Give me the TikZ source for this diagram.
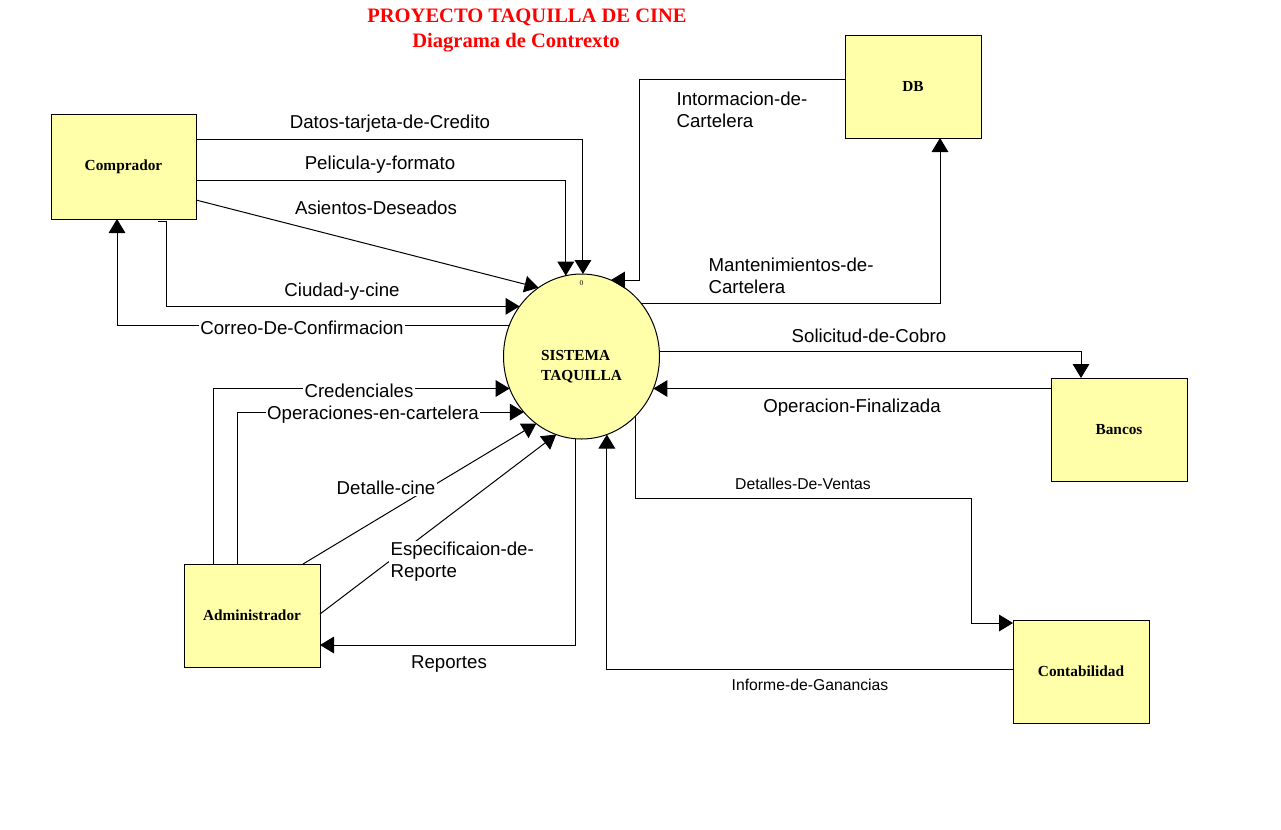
\documentclass[tikz,border=0pt]{standalone}
\usepackage{fontspec}
\setmainfont{Liberation Serif}
\newfontfamily\arialf{Liberation Sans}
\usetikzlibrary{arrows.meta,shapes.geometric}
\definecolor{boxyellow}{RGB}{255,255,170}
\begin{document}
\begin{tikzpicture}[x=0.75pt,y=-0.75pt,
  ent/.style={draw, line width=0.75pt, fill=boxyellow, minimum width=102pt, minimum height=77.25pt, inner sep=0pt, outer sep=0pt, font=\fontsize{11.5}{13}\selectfont\bfseries},
  flow/.style={line width=0.75pt, -{Triangle[length=10.5pt,width=12.5pt]}},
  lbl/.style={font=\arialf\fontsize{14}{16.5}\selectfont, inner sep=1pt},
  slbl/.style={font=\arialf\fontsize{11.8}{13}\selectfont, inner sep=1pt},
  ttl/.style={font=\fontsize{15.4}{18}\selectfont\bfseries, text=red, inner sep=0pt}]
\useasboundingbox (0,0) rectangle (1281,829);

% title
\node[ttl] (title) at (527,17) {PROYECTO TAQUILLA DE CINE};
\node[ttl] (subtitle) at (516,43) {Diagrama de Contrexto};

% entities
\node[ent, minimum width=108.75pt, minimum height=78.75pt] (comp) at (123.5,166.5) {Comprador};
\node[ent] (db) at (913,86.5) {DB};
\node[ent] (bancos) at (1119,429.5) {Bancos};
\node[ent] (admin) at (252,615.5) {Administrador};
\node[ent] (conta) at (1081,671.5) {Contabilidad};

% process
\node[draw, ellipse, line width=0.75pt, fill=boxyellow, minimum width=117pt, minimum height=123.75pt, inner sep=0pt, outer sep=0pt,
  label={[font=\fontsize{11.5}{15}\selectfont\bfseries, align=left, yshift=-7.5pt]center:SISTEMA\\TAQUILLA},
  label={[font=\fontsize{5.5}{6}\selectfont, inner sep=0pt, yshift=55pt]center:0}] (sys) at (581.5,356.5) {};

% connectors
\draw[flow] (comp.east |- 0,139) -| (sys.89);
\draw[flow] (comp.east |- 0,180) -| (sys.101.6);
\draw[flow] (comp.east |- 0,200) -- (sys.122.6);
\draw[flow] ([yshift=-1.5pt]comp.south -| 158,0) -- ++(8,0) |- (sys.141.6);
\draw[flow] (sys.157.9) -| (comp.south -| 117,0);
\draw[flow] (db.west |- 0,79) -| (sys.69.1 -| 639,0) -- (sys.69.1);
\draw[flow] (sys.42.9) -| (db.south -| 940,0);
\draw[flow] (sys.4) -| (bancos.north -| 1081,0);
\draw[flow] (bancos.west |- sys.336.4) -- (sys.336.4);
\draw[flow] (admin.north -| 213,0) |- (sys.204.4);
\draw[flow] (admin.north -| 237,0) |- (sys.224.8);
\draw[flow] (admin.north -| 303,0) -- (sys.236);
\draw[flow] (admin.east |- 0,614) -- (sys.252.9);
\draw[flow] (sys.266.9) |- (admin.east |- 0,645);
\draw[flow] (sys.312.7) |- (971,498) |- (conta.west |- 0,623);
\draw[flow] (conta.west |- 0,669) -| (sys.288.1);

% labels
\node[lbl] (l1) at (390,124) {Datos-tarjeta-de-Credito};
\node[lbl] (l2) at (380,165) {Pelicula-y-formato};
\node[lbl] (l3) at (376,208) {Asientos-Deseados};
\node[lbl] (l4) at (342,292) {Ciudad-y-cine};
\node[lbl, fill=white] (l5) at (302,328) {Correo-De-Confirmacion};
\node[lbl, align=left, anchor=west] (l6) at (675,110) {Intormacion-de-\\Cartelera};
\node[lbl, align=left, anchor=west] (l7) at (707,276) {Mantenimientos-de-\\Cartelera};
\node[lbl] (l8) at (869,336) {Solicitud-de-Cobro};
\node[lbl] (l9) at (852,408) {Operacion-Finalizada};
\node[lbl, fill=white] (l10) at (359,391) {Credenciales};
\node[lbl, fill=white] (l11) at (373,415) {Operaciones-en-cartelera};
\node[lbl, fill=white] (l12) at (386,488) {Detalle-cine};
\node[lbl, fill=white, align=left, anchor=west] (l13) at (389,562) {Especificaion-de-\\Reporte};
\node[lbl] (l14) at (449,664) {Reportes};
\node[slbl] (l15) at (803,484) {Detalles-De-Ventas};
\node[slbl] (l16) at (810,685) {Informe-de-Ganancias};
\end{tikzpicture}
\end{document}
